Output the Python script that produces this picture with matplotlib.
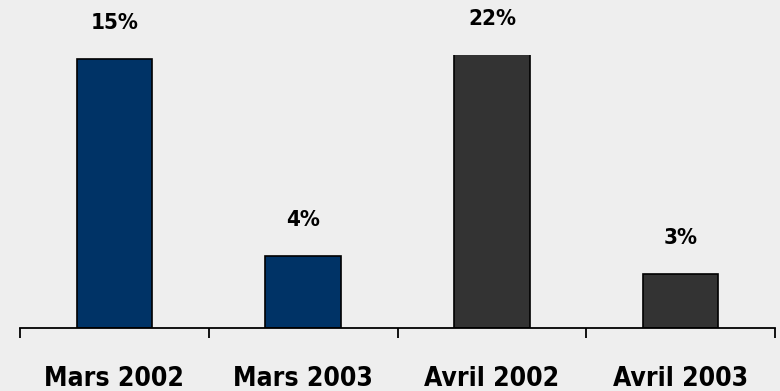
import matplotlib
matplotlib.use("Agg")
import matplotlib.pyplot as plt

categories = ["Mars 2002", "Mars 2003", "Avril 2002", "Avril 2003"]
values = [15, 4, 22, 3]
labels = ["15%", "4%", "22%", "3%"]
colors = ["#003366", "#003366", "#333333", "#333333"]

bg = "#eeeeee"
font = "DejaVu Sans"

fig = plt.figure(figsize=(7.8, 3.91), dpi=100, facecolor=bg)
ax = fig.add_axes([20 / 780, 63 / 391, 755 / 780, 273 / 391], facecolor=bg)

x = list(range(len(categories)))
ax.bar(x, values, width=0.4, color=colors, edgecolor="black", linewidth=1.2)

ymax = 15.25
ax.set_ylim(0, ymax)
ax.set_xlim(-0.5, len(categories) - 0.5)

# value labels sit above each bar (or above the clipped top)
for xi, v, lab in zip(x, values, labels):
    top = min(v, ymax)
    ax.annotate(lab, (xi, top), xytext=(0, 26), textcoords="offset points",
                ha="center", va="center", fontsize=16, fontweight="bold",
                family=font, stretch="condensed", color="black",
                annotation_clip=False)

for s in ["top", "left", "right"]:
    ax.spines[s].set_visible(False)
ax.spines["bottom"].set_linewidth(1.3)
ax.set_yticks([])

# boundary ticks between categories, labels centred on bars
ax.set_xticks([i - 0.5 for i in range(len(categories) + 1)])
ax.set_xticklabels([])
ax.tick_params(axis="x", which="major", direction="out", length=7.5, width=1.3)
ax.set_xticks(x, minor=True)
ax.set_xticklabels(categories, minor=True, fontsize=19, fontweight="bold",
                   family=font, stretch="condensed")
ax.tick_params(axis="x", which="minor", length=0, pad=27.5)

fig.savefig("out.png", dpi=100, facecolor=bg)
